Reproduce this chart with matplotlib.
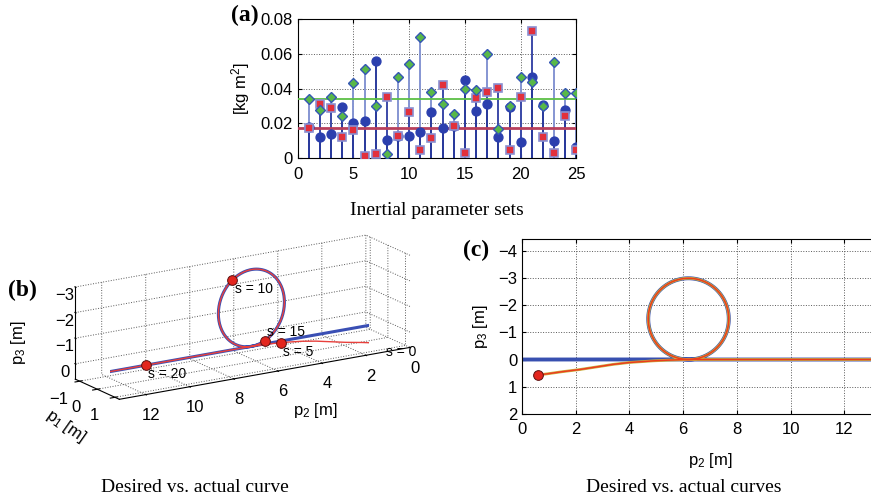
import numpy as np
import matplotlib
matplotlib.use('Agg')
from matplotlib import pyplot as plt

plt.rcParams['font.family'] = ['Liberation Sans', 'DejaVu Sans']
plt.rcParams['mathtext.fontset'] = 'custom'
plt.rcParams['mathtext.rm'] = 'Liberation Sans'
plt.rcParams['mathtext.it'] = 'Liberation Sans:italic'
plt.rcParams['font.size'] = 10
plt.rcParams['grid.linestyle'] = ':'
plt.rcParams['grid.color'] = '0.35'
plt.rcParams['grid.linewidth'] = 0.7
plt.rcParams['xtick.direction'] = 'in'
plt.rcParams['ytick.direction'] = 'in'

SERIF = 'Liberation Serif'

# ---- (a) inertial parameter sets ----
sets = np.arange(1, 26)
vals_circ = [0.0178, 0.0122, 0.0138, 0.0295, 0.0201, 0.0216, 0.0559, 0.0107, 0.0130, 0.0126,
             0.0153, 0.0264, 0.0172, 0.0186, 0.0448, 0.0274, 0.0314, 0.0121, 0.0297, 0.0092,
             0.0467, 0.0304, 0.0101, 0.0279, 0.0067]
vals_sq = [0.0176, 0.0314, 0.0289, 0.0122, 0.0165, 0.0011, 0.0027, 0.0354, 0.0128, 0.0266,
           0.0046, 0.0119, 0.0421, 0.0186, 0.0033, 0.0348, 0.0383, 0.0402, 0.0046, 0.0354,
           0.0731, 0.0121, 0.0033, 0.0245, 0.0050]
vals_dia = [0.0339, 0.0276, 0.0354, 0.0245, 0.0434, 0.0513, 0.0302, 0.0023, 0.0467, 0.0544,
            0.0699, 0.0381, 0.0314, 0.0256, 0.0396, 0.0392, 0.0599, 0.0167, 0.0300, 0.0465,
            0.0440, 0.0299, 0.0551, 0.0375, 0.0373]
ref_dia = 0.0339
ref_sq = 0.0176
yticks_a = [0, 0.02, 0.04, 0.06, 0.08]
yticklabels_a = ['0', '0.02', '0.04', '0.06', '0.08']

# ---- desired / actual curve ----
loop_c = (6.2, -1.5)     # (p2, p3) centre of the loop
loop_r = 1.5
line_start, line_end = 0.1, 14.2
# actual curve while converging onto the path: p1, p2, p3
app_p1 = [0.50, 0.45, 0.38, 0.30, 0.22, 0.15, 0.09, 0.05, 0.03, 0.01, 0.0, 0.0]
app_p2 = [0.58, 1.00, 1.50, 2.15, 2.80, 3.39, 4.00, 4.50, 4.88, 5.40, 5.87, 6.20]
app_p3 = [0.575, 0.52, 0.45, 0.37, 0.27, 0.18, 0.11, 0.075, 0.05, 0.025, 0.01, 0.0]
# arc-length stamps along the actual curve
s_lab = ['s = 0', 's = 5', 's = 10', 's = 15', 's = 20']
s_p1 = [0.50, 0.03, 0.0, 0.0, 0.0]
s_p2 = [0.58, 4.90, 7.06, 5.60, 11.0]
s_p3 = [0.575, 0.05, -2.73, -0.13, 0.0]
s_va = ['top', 'top', 'top', 'bottom', 'top']


def loop_path(c, r, n=200):
    th = np.linspace(0, 2 * np.pi, n)
    return c[0] + r * np.sin(th), c[1] + r * np.cos(th)


lp2, lp3 = loop_path(loop_c, loop_r)
des_p2 = np.concatenate([[line_start, loop_c[0]], lp2, [loop_c[0], line_end]])
des_p3 = np.concatenate([[0, 0], lp3, [0, 0]])
act_p2 = np.concatenate([app_p2, lp2, [line_end]])
act_p3 = np.concatenate([app_p3, lp3, [0]])
act_p1 = np.concatenate([app_p1, np.zeros(len(lp2)), [0]])

fig = plt.figure(figsize=(8.71, 4.98), dpi=100)

# (a)
ax = fig.add_axes([0.3418, 0.6821, 0.32, 0.2797])
ax.grid(True)
for vals, lc in [(vals_dia, '#8595d2'), (vals_sq, '#3c4aa8'), (vals_circ, '#2a3a9c')]:
    ax.vlines(sets, 0, vals, color=lc, lw=1.4, zorder=2)
ax.axhline(ref_dia, color='#5cbf45', lw=1.3, zorder=3)
ax.axhline(ref_sq, color='#b8405c', lw=2.0, zorder=3)
ax.plot(sets, vals_circ, 'o', ms=6.4, mfc='#2b3fae', mec='#2b3fae', zorder=4)
ax.plot(sets, vals_sq, 's', ms=5.4, mfc='#e2303c', mec='#8a90d2', mew=1.2, zorder=5)
ax.plot(sets, vals_dia, 'D', ms=5.2, mfc='#58b848', mec='#3456b4', mew=1.0, zorder=6)
ax.set_xlim(0, 25)
ax.set_ylim(0, 0.08)
ax.set_xticks([0, 5, 10, 15, 20, 25])
ax.set_yticks(yticks_a)
ax.set_yticklabels(yticklabels_a)
ax.tick_params(top=True, right=True, length=3, labelsize=12)
ax.tick_params(axis='x', pad=6)
ax.set_ylabel('[kg m$^2$]', fontsize=12, labelpad=6)
fig.text(0.281, 0.968, '(a)', ha='center', va='center',
         family=SERIF, fontweight='bold', fontsize=17)
fig.text(0.502, 0.578, 'Inertial parameter sets', ha='center', va='center',
         family=SERIF, fontsize=14)

# (b) 3D view
ax3 = fig.add_axes([0.0145, 0.096, 0.52, 0.52], projection='3d')
ax3.set_proj_type('ortho')
ax3.plot(np.zeros_like(des_p2), des_p2, des_p3, color='#3a4fb4', lw=2.2)
ax3.plot(act_p1, act_p2, act_p3, color='#e8403c', lw=1.0)
ax3.plot(s_p1, s_p2, s_p3, 'o', ms=7, mfc='#e3261e', mec='#5a1010', mew=0.7)
for lab, a, b, c, va in zip(s_lab, s_p1, s_p2, s_p3, s_va):
    dz = 0.1 if va == 'top' else -0.05
    ax3.text(a, b - 0.1, c + dz, lab, fontsize=10, ha='left', va=va)
ax3.set_xlim(-1.25, 1.25)
ax3.set_ylim(13.2, 0)
ax3.set_zlim(0.6, -3)
ax3.set_xticks([-1, 0, 1])
ax3.set_yticks([0, 2, 4, 6, 8, 10, 12])
ax3.set_zticks([-3, -2, -1, 0])
ax3.set_box_aspect((83, 342, 96), zoom=1.37)
ax3.view_init(elev=16.6, azim=-32)
for a in (ax3.xaxis, ax3.yaxis, ax3.zaxis):
    a.pane.set_fill(False)
    a.pane.set_edgecolor('none')
    a.line.set_color('k')
ax3.zaxis.set_ticks_position('upper')
ax3.tick_params(labelsize=12)
ax3.tick_params(axis='x', pad=-1)
ax3.tick_params(axis='z', pad=-5)
fig.text(0.075, 0.145, 'p$_1$ [m]', fontsize=12, rotation=-35,
         ha='center', va='center')
fig.text(0.362, 0.176, 'p$_2$ [m]', fontsize=12, ha='center', va='center')
fig.text(0.021, 0.313, 'p$_3$ [m]', fontsize=12, rotation=90,
         ha='center', va='center')
fig.text(0.026, 0.416, '(b)', ha='center', va='center', family=SERIF,
         fontweight='bold', fontsize=17)
fig.text(0.224, 0.022, 'Desired vs. actual curve', ha='center', va='center',
         family=SERIF, fontsize=14)

# (c) side view
axc = fig.add_axes([0.5993, 0.1693, 0.4317, 0.3508])
axc.grid(True)
axc.plot(des_p2, des_p3, color='#3850b0', lw=2.8)
axc.plot(act_p2, act_p3, color='#c9b440', lw=2.0)
axc.plot(act_p2, act_p3, color='#ec3c1e', lw=1.1)
axc.plot(app_p2[0], app_p3[0], 'o', ms=7, mfc='#e3261e', mec='#5a1010', mew=0.7)
axc.set_xlim(0, 14)
axc.set_ylim(2, -4.45)
axc.set_xticks(range(0, 15, 2))
axc.set_yticks(range(-4, 3))
axc.tick_params(top=True, right=True, length=3, labelsize=12)
axc.tick_params(axis='x', pad=6)
axc.set_xlabel('p$_2$ [m]', fontsize=12, labelpad=10)
axc.set_ylabel('p$_3$ [m]', fontsize=12, labelpad=6)
fig.text(0.547, 0.498, '(c)', ha='center', va='center', family=SERIF,
         fontweight='bold', fontsize=17)
fig.text(0.785, 0.022, 'Desired vs. actual curves', ha='center', va='center',
         family=SERIF, fontsize=14)

fig.savefig('out.png', dpi=100)
